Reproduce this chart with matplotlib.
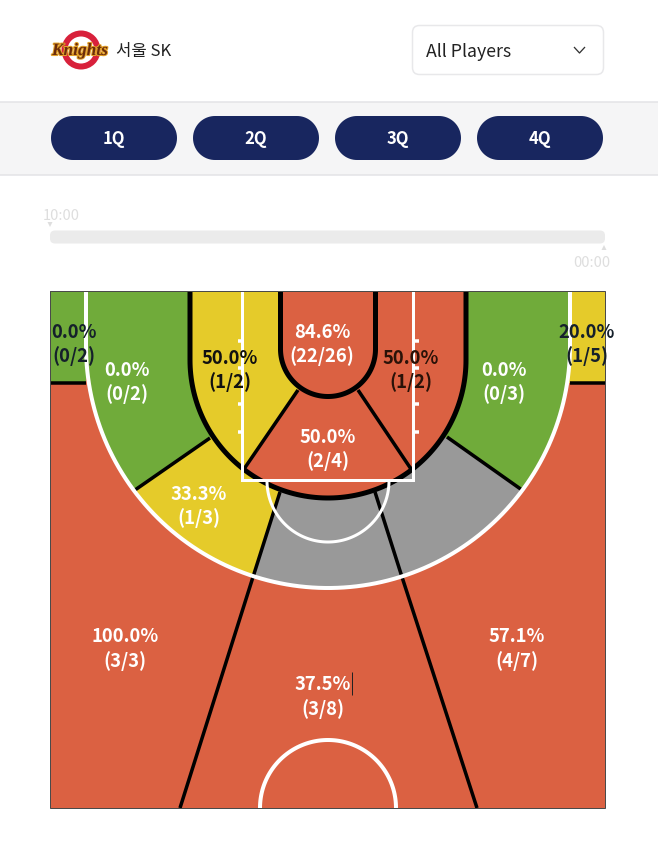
import numpy as np
import matplotlib
matplotlib.use('Agg')
import matplotlib.pyplot as plt
import matplotlib.patheffects as pe
from matplotlib.patches import Rectangle, FancyBboxPatch, Polygon, Circle

plt.rcParams['font.family'] = ['Noto Sans CJK KR', 'DejaVu Sans']
plt.rcParams['lines.solid_capstyle'] = 'butt'

# ---- data ----
TEAM = '서울 SK'
PLAYER_FILTER = 'All Players'
QUARTERS = ['1Q', '2Q', '3Q', '4Q']
TIME_START = '10:00'
TIME_END = '00:00'

made = [0, 0, 1, 22, 1, 0, 1, 2, 1, 3, 4, 3]
attempts = [2, 2, 2, 26, 2, 3, 5, 4, 3, 3, 7, 8]
label_x = [74, 127, 230, 322, 411, 504, 587, 328, 199, 125, 517, 323]
label_y = [331, 369, 357, 331, 357, 369, 331, 436, 493, 636, 636, 684]
label_colors = ['#15202b', 'white', '#111111', 'white', '#2a1208', 'white',
                '#15202b', 'white', 'white', 'white', 'white', 'white']

ORANGE = '#DB6142'
GREEN = '#70AB3A'
YELLOW = '#E5CB2A'
GRAY = '#999999'
NAVY = '#18265F'

def px(w):
    # line width in pixels to points
    return w * 0.72

def arc(cx, cy, r, a0, a1, n=120):
    # angles in degrees, y axis points down
    t = np.radians(np.linspace(a0, a1, n))
    return np.column_stack([cx + r * np.cos(t), cy + r * np.sin(t)])

def pill(x0, y0, w, h):
    # rounded bar with true half circle ends
    r = h / 2
    return np.vstack([arc(x0 + r, y0 + r, r, 90, 270, 40),
                      arc(x0 + w - r, y0 + r, r, -90, 90, 40)])

fig = plt.figure(figsize=(6.58, 8.41), dpi=100, facecolor='white')
ax = fig.add_axes([0, 0, 1, 1])
ax.set_xlim(0, 658)
ax.set_ylim(841, 0)
ax.axis('off')

# ---- header ----
ax.add_patch(Circle((81, 50), 16.5, fc='white', ec='#D8213B', lw=px(6), zorder=2))
ax.text(80, 51, 'Knights', family='Liberation Serif', style='italic', weight='bold',
        fontsize=12.5, color='#6B2C0C', ha='center', va='center', zorder=3,
        path_effects=[pe.withStroke(linewidth=1.5, foreground='#E2A12B')])
ax.text(116, 51.5, TEAM, fontsize=12, color='#222222', ha='left', va='center')

ax.add_patch(FancyBboxPatch((412.5, 25.5), 191, 49, boxstyle='round,pad=0,rounding_size=7',
                            fc='white', ec='#E8E8EA', lw=px(1.5)))
ax.text(426, 52, PLAYER_FILTER, fontsize=12.8, color='#222222', ha='left', va='center')
ax.plot([574, 579.5, 585], [47, 53, 47], color='#333333', lw=px(1.3))

# ---- quarter band ----
ax.add_patch(Rectangle((0, 102), 658, 73, fc='#F5F5F6', ec='none'))
ax.plot([0, 658], [101.5, 101.5], color='#E3E3E6', lw=px(1.5))
ax.plot([0, 658], [175, 175], color='#E3E3E6', lw=px(1.5))
for i, q in enumerate(QUARTERS):
    x0 = 51 + i * 142
    ax.add_patch(Polygon(pill(x0, 116, 126, 44), closed=True, fc=NAVY, ec='none'))
    ax.text(x0 + 63, 139, q, fontsize=12, weight='bold', color='white', ha='center', va='center')

# ---- time slider ----
ax.add_patch(FancyBboxPatch((50, 230.5), 555, 13, boxstyle='round,pad=0,rounding_size=5',
                            fc='#EBEBEB', ec='none'))
ax.text(61, 215.5, TIME_START, fontsize=10.5, color='#DEDEDE', ha='center', va='center')
ax.text(592, 263, TIME_END, fontsize=10.5, color='#DEDEDE', ha='center', va='center')
ax.add_patch(Polygon([(47.5, 222), (52.5, 222), (50, 227)], fc='#DEDEDE', ec='none'))
ax.add_patch(Polygon([(601.5, 250), (606.5, 250), (604, 245)], fc='#DEDEDE', ec='none'))

# ---- court ----
L, R, T, B = 50, 605, 291, 808.5
CX = 328
ax.add_patch(Rectangle((L, T), R - L, B - T, fc=ORANGE, ec='none', zorder=1))
ax.add_patch(Rectangle((L, T), 36, 92, fc=GREEN, ec='none', zorder=1.1))
ax.add_patch(Rectangle((569, T), 36, 92, fc=YELLOW, ec='none', zorder=1.1))
ax.plot([L, 86], [383, 383], color='black', lw=px(3.5), zorder=1.2)
ax.plot([570, R], [383, 383], color='black', lw=px(3.5), zorder=1.2)

# three point area, split into outer zones
three_pts = np.vstack([[[86, T]], arc(CX, 346, 242, 180, 0), [[570, T]]])
three_patch = Polygon(three_pts, closed=True, fc=GRAY, ec='none', zorder=1.5)
ax.add_patch(three_patch)
outer_polys = [
    ([(50, T), (250, T), (250, 410), (100, 514), (50, 514)], GREEN),
    ([(606, T), (406, T), (406, 410), (556, 514), (606, 514)], GREEN),
    ([(100, 514), (250, 410), (290, 460), (245, 602), (100, 602)], YELLOW),
]
for pts, col in outer_polys:
    p = Polygon(pts, closed=True, fc=col, ec='none', zorder=1.6)
    ax.add_patch(p)
    p.set_clip_path(three_patch)

# zone separators
for xs, ys in [([135, 210], [490, 438]), ([522, 447], [490, 437]),
               ([280, 253, 180], [492, 577, 808]), ([375, 402, 477], [492, 577, 808])]:
    ax.plot(xs, ys, color='black', lw=px(3.5), zorder=1.7, solid_joinstyle='miter')

# mid range area
inner_pts = np.vstack([[[190, T]], arc(CX, 360, 138, 180, 0), [[466, T]]])
inner = Polygon(inner_pts, closed=True, fc=ORANGE, ec='none', zorder=2)
ax.add_patch(inner)
yellow_mid = Polygon([(180, T), (310, T), (310, 372), (230, 490), (180, 490)], closed=True,
                     fc=YELLOW, ec='none', zorder=2.1)
ax.add_patch(yellow_mid)
yellow_mid.set_clip_path(inner)
ax.plot([298, 244], [390, 469], color='black', lw=px(3.5), zorder=2.2)
ax.plot([358, 411], [390, 469], color='black', lw=px(3.5), zorder=2.2)
ax.plot(inner_pts[:, 0], inner_pts[:, 1], color='black', lw=px(5), zorder=2.3)

# restricted area
u_pts = np.vstack([[[280.5, T]], arc(CX, 349, 47.5, 180, 0), [[375.5, T]]])
ax.add_patch(Polygon(u_pts, closed=True, fc=ORANGE, ec='none', zorder=2.4))
ax.plot(u_pts[:, 0], u_pts[:, 1], color='black', lw=px(5), zorder=2.5)

# white court markings
ax.plot(three_pts[:, 0], three_pts[:, 1], color='white', lw=px(4), zorder=3)
ax.plot([242, 242, 413, 413], [T, 480, 480, T], color='white', lw=px(3),
        zorder=3, solid_joinstyle='miter')
ft = arc(CX, 481, 61, 180, 0)
ax.plot(ft[:, 0], ft[:, 1], color='white', lw=px(3), zorder=3)
for y in [341, 368, 404, 432]:
    ax.plot([238, 242], [y, y], color='white', lw=px(3.5), zorder=3)
    ax.plot([414, 419], [y, y], color='white', lw=px(3.5), zorder=3)
hc = arc(CX, 808, 68, 180, 360)
ax.plot(hc[:, 0], hc[:, 1], color='white', lw=px(4), zorder=3)

ax.add_patch(Rectangle((L, T), R - L, B - T, fc='none', ec='#4A4A4A', lw=px(1), zorder=3.5))

# zone labels
for x, y, m, a, c in zip(label_x, label_y, made, attempts, label_colors):
    ax.text(x, y + 1, f'{100 * m / a:.1f}%', fontsize=13.3, weight='bold', color=c,
            ha='center', va='center', zorder=4)
    ax.text(x, y + 25, f'({m}/{a})', fontsize=13.3, weight='bold', color=c,
            ha='center', va='center', zorder=4)
ax.plot([351.5, 351.5], [672, 695], color='#222222', lw=px(1), zorder=4)

fig.savefig('out.png', dpi=100, facecolor='white')
